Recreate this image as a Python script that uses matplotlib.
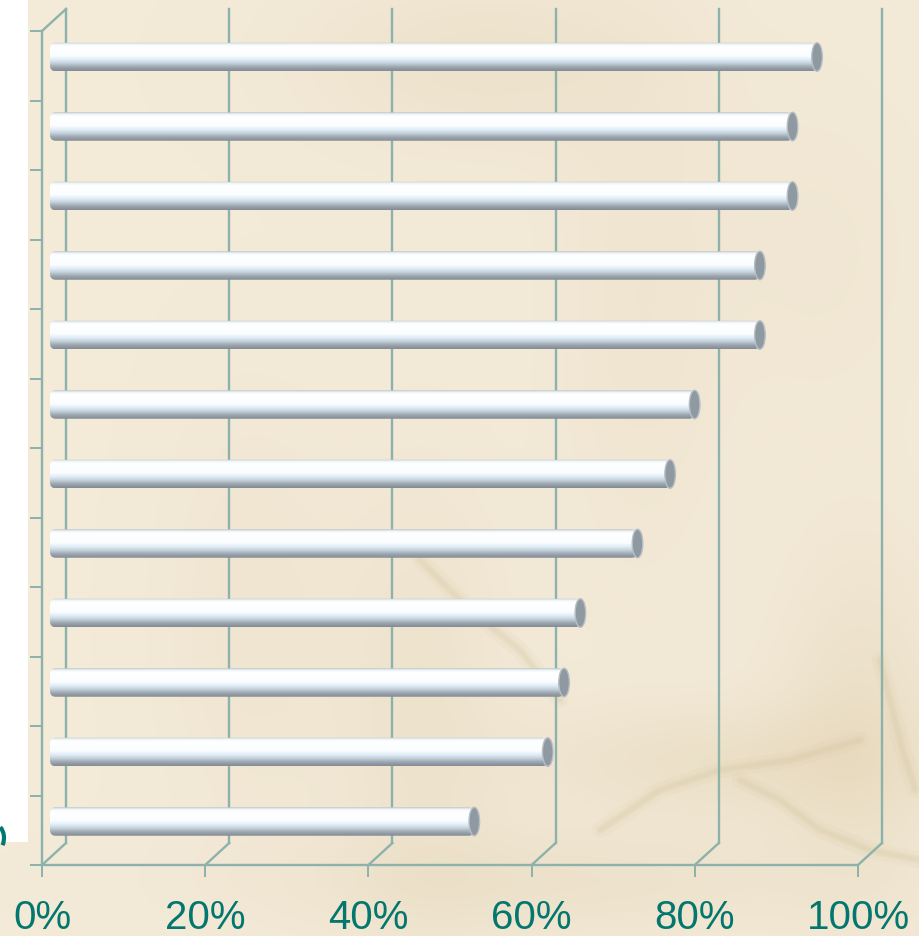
"""Horizontal cylinder bars on a beige 3D wall."""

import matplotlib.pyplot as plt
import numpy as np
from matplotlib.colors import LinearSegmentedColormap
from matplotlib.patches import Arc, Ellipse, FancyBboxPatch, Rectangle

plt.rcParams['font.family'] = ['Liberation Sans', 'DejaVu Sans']

# Shares, top bar first
values = [94, 91, 91, 87, 87, 79, 76, 72, 65, 63, 61, 52]
xticks = [0, 20, 40, 60, 80, 100]
xtick_labels = ['0%', '20%', '40%', '60%', '80%', '100%']

W, H = 919, 936
line_c = '#8cb2ab'
text_c = '#03776e'
bg_c = '#f3ead8'

# front plane (pixels), back wall offset
fx0, fx1, fy0, fy1 = 42, 858, 31, 865
dx, dy = 24, 22

fig = plt.figure(figsize=(W / 100, H / 100), dpi=100)
fig.patch.set_facecolor(bg_c)

# ---------------------------------------------------------------- background
ax_bg = fig.add_axes([0, 0, 1, 1], zorder=0)
ax_bg.set_xlim(0, W)
ax_bg.set_ylim(H, 0)
ax_bg.axis('off')

yy, xx = np.mgrid[0:H:4, 0:W:4]
field = np.zeros_like(xx, dtype=float)
blobs = [  # x, y, sx, sy, strength
    (480, 60, 120, 60, 0.25),
    (640, 300, 60, 200, 0.15),
    (420, 700, 60, 160, 0.22),
    (720, 760, 140, 40, 0.30),
    (860, 720, 60, 120, 0.30),
    (560, 880, 200, 40, 0.25),
    (250, 620, 60, 140, 0.15),
    (820, 250, 80, 120, 0.10),
]
for bx, by, sx, sy, s in blobs:
    field += s * np.exp(-((xx - bx) ** 2 / (2 * sx ** 2) + (yy - by) ** 2 / (2 * sy ** 2)))
haze = LinearSegmentedColormap.from_list('haze', [bg_c, '#dccaa5'])
ax_bg.imshow(np.clip(field, 0, 1), cmap=haze, vmin=0, vmax=1,
             extent=(0, W, H, 0), aspect='auto', interpolation='bilinear')

# faint branch strokes, drawn wide and soft
for xs, ys in [
    ([600, 660, 720, 790, 860], [830, 790, 770, 760, 740]),
    ([740, 780, 820, 870, 919], [780, 800, 830, 850, 860]),
    ([880, 890, 900, 915], [660, 700, 740, 790]),
    ([420, 470, 520, 560], [560, 610, 650, 700]),
]:
    for lw, a in [(12, 0.08), (6, 0.12), (3, 0.12)]:
        ax_bg.plot(xs, ys, color='#d0bf95', lw=lw, alpha=a, solid_capstyle='round')

ax_bg.add_patch(Rectangle((0, 0), 28, 842, facecolor='white', edgecolor='none'))
# tail of a clipped category label
ax_bg.add_patch(Arc((-6, 838), 20, 28, theta1=-60, theta2=40, color=text_c, lw=3))

# back wall gridlines and floor diagonals
for k in range(len(xticks)):
    xf = fx0 + (fx1 - fx0) * k / (len(xticks) - 1)
    ax_bg.plot([xf + dx, xf + dx], [fy0 - dy, fy1 - dy], color=line_c, lw=1.7)
    ax_bg.plot([xf, xf + dx], [fy1, fy1 - dy], color=line_c, lw=1.7)
ax_bg.plot([fx0, fx0 + dx], [fy0, fy0 - dy], color=line_c, lw=1.7)

# ---------------------------------------------------------------------- bars
n = len(values)
band_top, pitch = 57 - 69.5 / 2, 69.5
ax = fig.add_axes([50 / W, 1 - (band_top + pitch * n) / H, 816 / W, pitch * n / H],
                  zorder=1)
ax.set_xlim(0, 100)
ax.set_ylim(n - 0.5, -0.5)
ax.axis('off')
ax.patch.set_alpha(0)

cyl = LinearSegmentedColormap.from_list('cyl', [
    (0.0, '#b9c2c9'), (0.06, '#eef3f6'), (0.15, '#ffffff'), (0.48, '#fafdff'),
    (0.62, '#deebf5'), (0.75, '#c0cdd8'), (0.86, '#9ea8b0'), (1.0, '#838c94'),
])
grad = np.linspace(0, 1, 64).reshape(-1, 1)
h = 0.41
for i, v in enumerate(values):
    im = ax.imshow(grad, cmap=cyl, extent=(0, v, i + h / 2, i - h / 2),
                   aspect='auto', interpolation='bilinear')
    clip = FancyBboxPatch((0, i - h / 2), v, h,
                          boxstyle='round,pad=0,rounding_size=0.7',
                          mutation_aspect=0.12, transform=ax.transData)
    im.set_clip_path(clip)
    ax.add_patch(Ellipse((v, i), 1.3, h, facecolor='#8f99a1',
                         edgecolor='#b7bfc6', lw=1.0))

# ---------------------------------------------------------------- front axis
ax_f = fig.add_axes([fx0 / W, 1 - fy1 / H, (fx1 - fx0) / W, (fy1 - fy0) / H], zorder=2)
ax_f.patch.set_alpha(0)
ax_f.set_xlim(0, 100)
ax_f.set_ylim(0, n)
ax_f.set_xticks(xticks, xtick_labels)
ax_f.set_yticks(range(n + 1), [''] * (n + 1))
for side in ('top', 'right'):
    ax_f.spines[side].set_visible(False)
for side in ('left', 'bottom'):
    ax_f.spines[side].set_color(line_c)
    ax_f.spines[side].set_linewidth(1.7)
ax_f.tick_params(axis='both', color=line_c, width=1.4, length=8.5, direction='out')
ax_f.tick_params(axis='x', labelcolor=text_c, labelsize=29, pad=16)

fig.savefig('out.png', dpi=100, facecolor=fig.get_facecolor())
